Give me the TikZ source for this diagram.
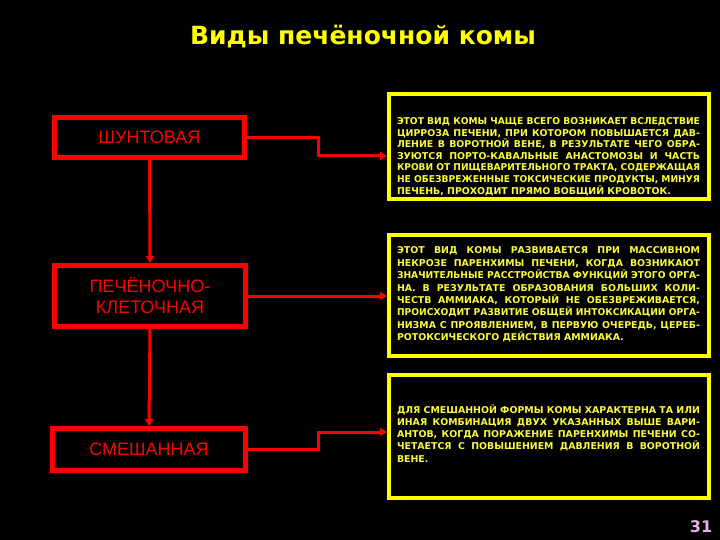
\documentclass[tikz,border=0pt]{standalone}
\usepackage{fontspec}
\usepackage{graphicx}
\setmainfont{DejaVu Sans}
\newfontfamily\titlefont{DejaVu Sans}
\newfontfamily\labfont{Liberation Sans}
\usetikzlibrary{arrows.meta,positioning,calc}
\definecolor{rd}{RGB}{255,0,0}
\definecolor{yl}{RGB}{255,255,0}
\definecolor{ytext}{RGB}{250,250,60}
\definecolor{pnum}{RGB}{230,175,230}
\newsavebox{\jlbox}
\newcommand{\justline}[1]{{\spaceskip=0pt\xspaceskip=0pt%
  \sbox{\jlbox}{#1}%
  \ifdim\wd\jlbox>300pt \resizebox{303pt}{\ht\jlbox}{\usebox{\jlbox}}%
  \else\makebox[303pt][s]{#1}\fi}}
\newcommand{\lastline}[1]{{\spaceskip=0pt\xspaceskip=0pt\makebox[303pt][l]{#1}}}
\begin{document}
\begin{tikzpicture}[x=1pt,y=-1pt,
  redbox/.style={draw=rd,line width=5pt,inner sep=0pt,text=rd,align=center,
    font=\labfont\fontsize{18}{21}\selectfont},
  ylbox/.style={draw=yl,line width=4pt,inner sep=0pt,minimum width=320pt},
  ytxt/.style={inner sep=0pt,text width=303pt,align=left,text=ytext,
    font=\bfseries\fontsize{9.4}{11.6}\selectfont},
  conn/.style={draw=rd,line width=3pt,-{Triangle[length=7pt,width=8pt]}},
  vconn/.style={draw=rd,line width=3pt,-{Triangle[length=7pt,width=8pt]}}]
\useasboundingbox (0,0) rectangle (720,540);
\fill[black] (0,0) rectangle (720,540);

\node[text=yl,anchor=base,font=\titlefont\bfseries\fontsize{25}{29}\selectfont] (title) at (363,45) {Виды печёночной комы};

% left red boxes
\node[redbox,minimum width=190pt,minimum height=40pt] (b1) at (149.5,137.5) {ШУНТОВАЯ};
\node[redbox,minimum width=191pt,minimum height=61pt] (b2) at (150,296) {ПЕЧЁНОЧНО-\\КЛЕТОЧНАЯ};
\node[redbox,minimum width=193pt,minimum height=42pt] (b3) at (149,449.5) {СМЕШАННАЯ};

% right yellow boxes
\node[ylbox,minimum height=105pt] (ya) at (549,146.5) {};
\node[ylbox,minimum height=121pt] (yb) at (549,295.5) {};
\node[ylbox,minimum height=123pt] (yc) at (549,436.5) {};

\node[ytxt] (ta) at (548.5,156.5) {%
\justline{ЭТОТ ВИД КОМЫ ЧАЩЕ ВСЕГО ВОЗНИКАЕТ ВСЛЕДСТВИЕ}\\
\justline{ЦИРРОЗА ПЕЧЕНИ, ПРИ КОТОРОМ ПОВЫШАЕТСЯ ДАВ-}\\
\justline{ЛЕНИЕ В ВОРОТНОЙ ВЕНЕ, В РЕЗУЛЬТАТЕ ЧЕГО ОБРА-}\\
\justline{ЗУЮТСЯ ПОРТО-КАВАЛЬНЫЕ АНАСТОМОЗЫ И ЧАСТЬ}\\
\justline{КРОВИ ОТ ПИЩЕВАРИТЕЛЬНОГО ТРАКТА, СОДЕРЖАЩАЯ}\\
\justline{НЕ ОБЕЗВРЕЖЕННЫЕ ТОКСИЧЕСКИЕ ПРОДУКТЫ, МИНУЯ}\\
\lastline{ПЕЧЕНЬ, ПРОХОДИТ ПРЯМО ВОБЩИЙ КРОВОТОК.}};

\node[ytxt,font=\bfseries\fontsize{9.4}{12.4}\selectfont] (tb) at (548.5,294.5) {%
\justline{ЭТОТ ВИД КОМЫ РАЗВИВАЕТСЯ ПРИ МАССИВНОМ}\\
\justline{НЕКРОЗЕ ПАРЕНХИМЫ ПЕЧЕНИ, КОГДА ВОЗНИКАЮТ}\\
\justline{ЗНАЧИТЕЛЬНЫЕ РАССТРОЙСТВА ФУНКЦИЙ ЭТОГО ОРГА-}\\
\justline{НА. В РЕЗУЛЬТАТЕ ОБРАЗОВАНИЯ БОЛЬШИХ КОЛИ-}\\
\justline{ЧЕСТВ АММИАКА, КОТОРЫЙ НЕ ОБЕЗВРЕЖИВАЕТСЯ,}\\
\justline{ПРОИСХОДИТ РАЗВИТИЕ ОБЩЕЙ ИНТОКСИКАЦИИ ОРГА-}\\
\justline{НИЗМА С ПРОЯВЛЕНИЕМ, В ПЕРВУЮ ОЧЕРЕДЬ, ЦЕРЕБ-}\\
\lastline{РОТОКСИЧЕСКОГО ДЕЙСТВИЯ АММИАКА.}};

\node[ytxt,font=\bfseries\fontsize{9.4}{12.2}\selectfont] (tc) at (548.5,433.3) {%
\justline{ДЛЯ СМЕШАННОЙ ФОРМЫ КОМЫ ХАРАКТЕРНА ТА ИЛИ}\\
\justline{ИНАЯ КОМБИНАЦИЯ ДВУХ УКАЗАННЫХ ВЫШЕ ВАРИ-}\\
\justline{АНТОВ, КОГДА ПОРАЖЕНИЕ ПАРЕНХИМЫ ПЕЧЕНИ СО-}\\
\justline{ЧЕТАЕТСЯ С ПОВЫШЕНИЕМ ДАВЛЕНИЯ В ВОРОТНОЙ}\\
\lastline{ВЕНЕ.}};

% vertical arrows
\draw[vconn] (b1.south) -- (b2.north);
\draw[vconn] (b2.south) -- (b3.north);

% connectors
\coordinate (k1) at (318,156);
\coordinate (k3) at (318,432);
\draw[conn] (b1.east) -| (k1) -- (k1 -| ya.west);
\draw[conn] (b2.east) -- (b2.east -| yb.west);
\draw[conn] (b3.east) -| (k3) -- (k3 -| yc.west);

\node[text=pnum,font=\bfseries\fontsize{16}{18}\selectfont] (num) at (701,527) {31};
\end{tikzpicture}
\end{document}
